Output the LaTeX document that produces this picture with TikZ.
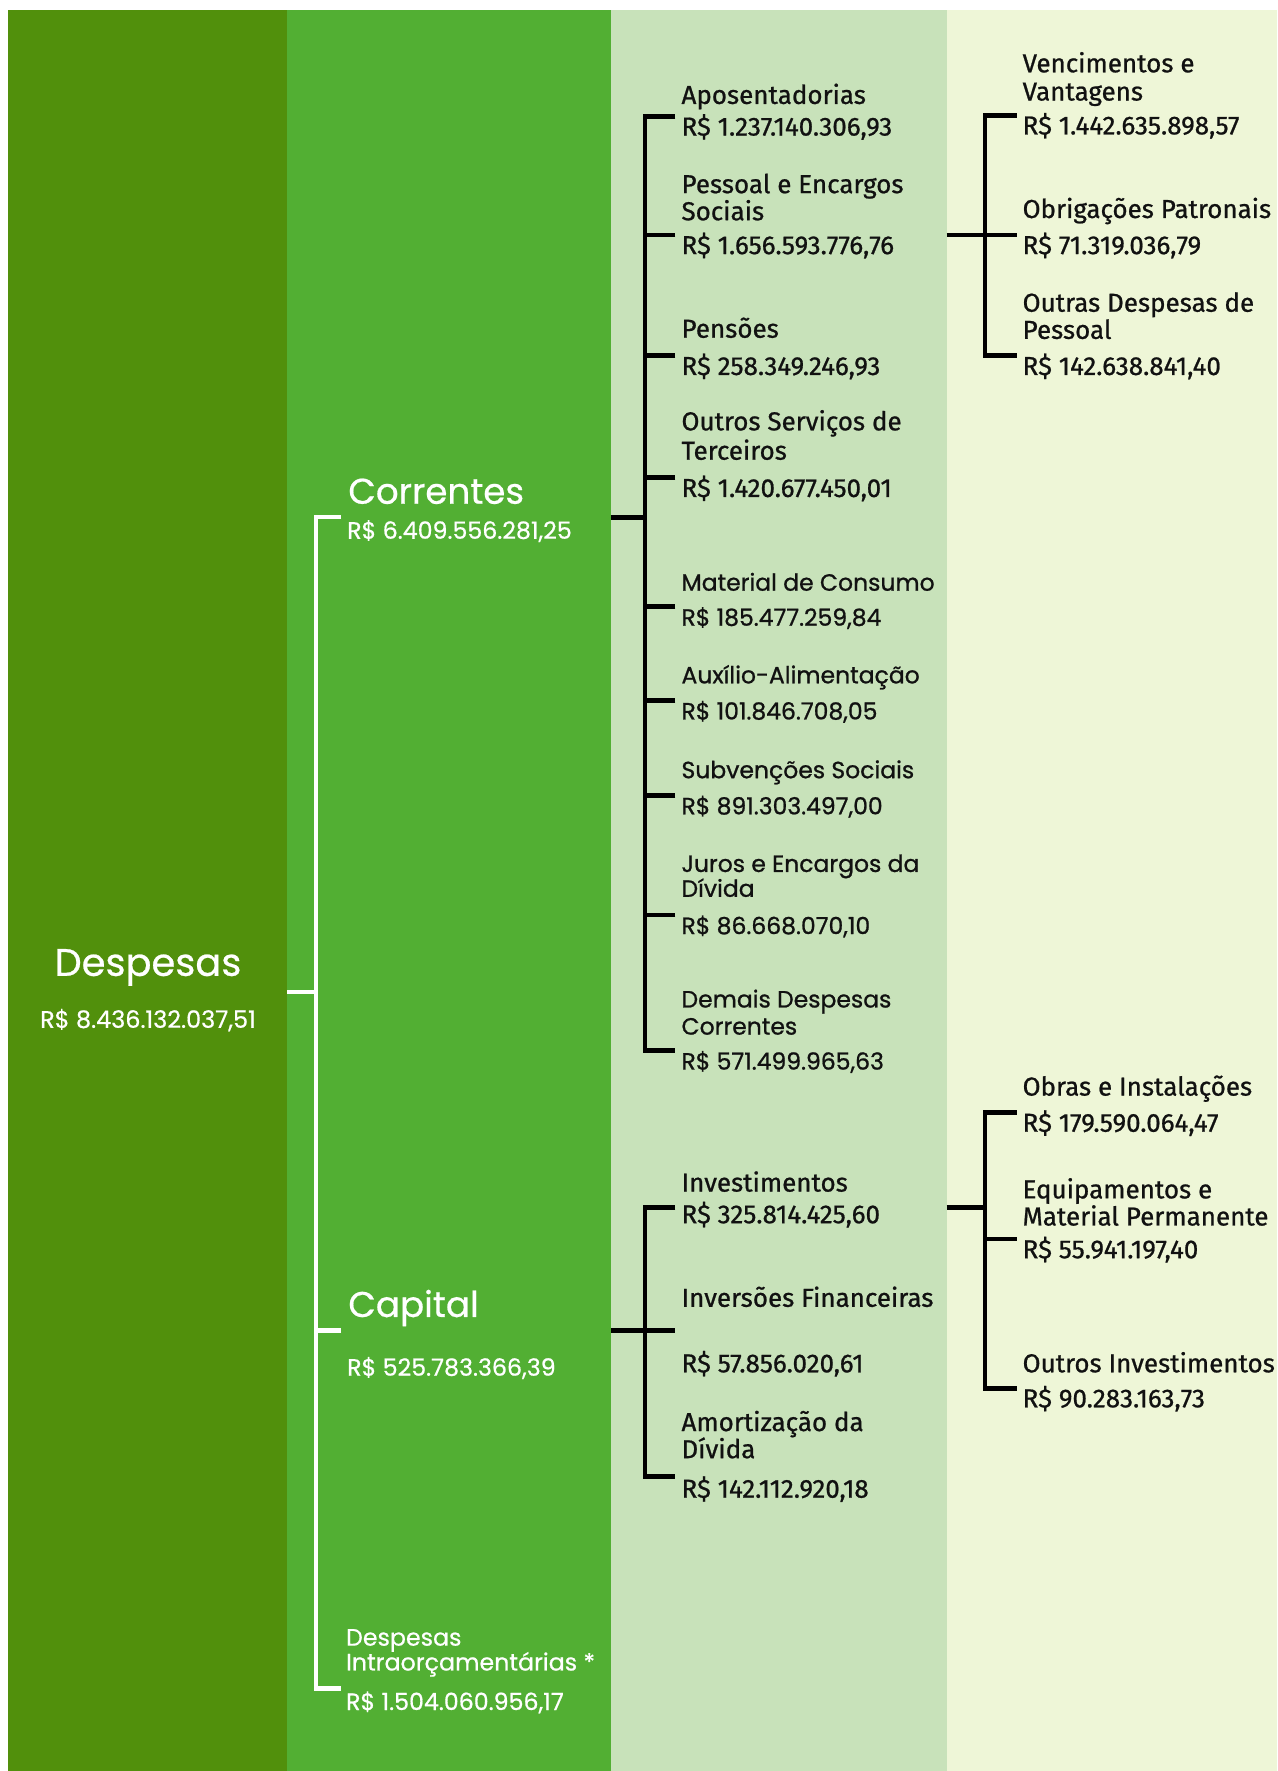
\documentclass[tikz,border=0pt]{standalone}
\usepackage{fontspec}
\setmainfont{Fira Sans}[FakeBold=0.8]
\newfontfamily\pop{Poppins}[FakeBold=0.9]
\newfontfamily\popw{Poppins}[FakeBold=0.6]
\definecolor{cdark}{HTML}{51900C}
\definecolor{cgreen}{HTML}{52AF33}
\definecolor{clight}{HTML}{C8E2BA}
\definecolor{cpale}{HTML}{EEF6D7}
\definecolor{ink}{HTML}{111111}
\begin{document}
\begin{tikzpicture}[x=0.5pt,y=-0.5pt,
  lab/.style={inner sep=0pt, anchor=base west, text=ink, font=\fontsize{11.5}{12}\selectfont},
  plab/.style={lab, font=\pop\fontsize{10.4}{12}\selectfont},
  wlab/.style={inner sep=0pt, anchor=base west, text=white, font=\popw\fontsize{10.5}{12}\selectfont},
  wbig/.style={wlab, font=\popw\fontsize{15.8}{18}\selectfont},
  bline/.style={draw=black, line width=2.1pt},
  wline/.style={draw=white, line width=1.9pt},
]
\useasboundingbox (0,0) rectangle (1131,1568);
\fill[white] (0,0) rectangle (1131,1568);
\fill[cdark] (7,9) rectangle (254,1568);
\fill[cgreen] (254,9) rectangle (541,1568);
\fill[clight] (541,9) rectangle (838,1568);
\fill[cpale] (838,9) rectangle (1131,1568);

% root
\node[inner sep=0pt, anchor=base, text=white, font=\popw\fontsize{17}{20}\selectfont] (root) at (131,864) {Despesas};
\node[inner sep=0pt, anchor=base, text=white, font=\popw\fontsize{10.6}{12}\selectfont] (rootv) at (131,910) {R\$ 8.436.132.037,51};

% level 1
\node[wbig] (cor) at (308,446) {Correntes};
\node[wlab] (corv) at (307,477) {R\$ 6.409.556.281,25};
\node[wbig] (cap) at (308,1166) {Capital};
\node[wlab] (capv) at (307,1218) {R\$ 525.783.366,39};
\node[wlab] (intl1) at (306,1457) {Despesas};
\node[wlab] (intl2) at (306,1479) {Intraorçamentárias *};
\node[wlab] (intv) at (306,1514) {R\$ 1.504.060.956,17};

% level 2 - correntes
\node[lab] (a1l) at (603,92) {Aposentadorias};
\node[lab] (a1) at (603,120) {R\$ 1.237.140.306,93};
\node[lab] (a2l1) at (603,171) {Pessoal e Encargos};
\node[lab] (a2l2) at (603,195) {Sociais};
\node[lab] (a2) at (603,225) {R\$ 1.656.593.776,76};
\node[lab] (a3l) at (603,299) {Pensões};
\node[lab] (a3) at (603,332) {R\$ 258.349.246,93};
\node[lab] (a4l1) at (603,381) {Outros Serviços de};
\node[lab] (a4l2) at (603,407) {Terceiros};
\node[lab] (a4) at (603,440) {R\$ 1.420.677.450,01};
\node[plab] (a5l) at (603,523) {Material de Consumo};
\node[plab] (a5) at (603,554) {R\$ 185.477.259,84};
\node[plab] (a6l) at (603,605) {Auxílio-Alimentação};
\node[plab] (a6) at (603,637) {R\$ 101.846.708,05};
\node[plab] (a7l) at (603,689) {Subvenções Sociais};
\node[plab] (a7) at (603,721) {R\$ 891.303.497,00};
\node[plab] (a8l1) at (603,772) {Juros e Encargos da};
\node[plab] (a8l2) at (603,794) {Dívida};
\node[plab] (a8) at (603,827) {R\$ 86.668.070,10};
\node[plab] (a9l1) at (603,892) {Demais Despesas};
\node[plab] (a9l2) at (603,916) {Correntes};
\node[plab] (a9) at (603,947) {R\$ 571.499.965,63};

% level 2 - capital
\node[lab] (b1l) at (603,1055) {Investimentos};
\node[lab] (b1) at (603,1083) {R\$ 325.814.425,60};
\node[lab] (b2l) at (603,1157) {Inversões Financeiras};
\node[lab] (b2) at (603,1215) {R\$ 57.856.020,61};
\node[lab] (b3l1) at (603,1267) {Amortização da};
\node[lab] (b3l2) at (603,1291) {Dívida};
\node[lab] (b3) at (603,1326) {R\$ 142.112.920,18};

% level 3 - pessoal
\node[lab] (p1l1) at (905,64) {Vencimentos e};
\node[lab] (p1l2) at (905,89) {Vantagens};
\node[lab] (p1) at (905,119) {R\$ 1.442.635.898,57};
\node[lab] (p2l) at (905,193) {Obrigações Patronais};
\node[lab] (p2) at (905,225) {R\$ 71.319.036,79};
\node[lab] (p3l1) at (905,276) {Outras Despesas de};
\node[lab] (p3l2) at (905,300) {Pessoal};
\node[lab] (p3) at (905,332) {R\$ 142.638.841,40};

% level 3 - investimentos
\node[lab] (i1l) at (905,970) {Obras e Instalações};
\node[lab] (i1) at (905,1002) {R\$ 179.590.064,47};
\node[lab] (i2l1) at (905,1061) {Equipamentos e};
\node[lab] (i2l2) at (905,1085) {Material Permanente};
\node[lab] (i2) at (905,1114) {R\$ 55.941.197,40};
\node[lab] (i3l) at (905,1215) {Outros Investimentos};
\node[lab] (i3) at (905,1246) {R\$ 90.283.163,73};

% ---- white bracket
\coordinate (dJ) at (254,878);
\coordinate (wTop) at (280,458);
\coordinate (wBot) at (280,1495);
\coordinate (sCor) at ([shift={(-5,-19)}]corv.base west);
\coordinate (sCap) at (302,1178);
\coordinate (sInt) at ([shift={(-4,-19)}]intv.base west);
\draw[wline] (dJ) -- (dJ -| wTop);
\draw[wline] (sCor) -- (wTop) -- (wBot) -- (sInt);
\draw[wline] (sCap) -- (sCap -| wTop);

% ---- correntes bracket
\coordinate (jCor) at (541,458);
\coordinate (tC) at (571,458);
\foreach \n in {a1,a2,a3,a4,a5,a6,a7,a8,a9}
  \coordinate (s\n) at ([shift={(-5,-17)}]\n.base west);
\draw[bline] (jCor) -- (tC);
\draw[bline] (sa1) -- (sa1 -| tC) -- (sa9 -| tC) -- (sa9);
\foreach \n in {a2,a3,a4,a5,a6,a7,a8}
  \draw[bline] (s\n) -- (s\n -| tC);

% ---- capital bracket
\coordinate (jCap) at (541,1178);
\coordinate (tK) at (571,1178);
\coordinate (sb1) at ([shift={(-5,-14)}]b1.base west);
\coordinate (sb2) at (598,1178);
\coordinate (sb3) at ([shift={(-5,-19)}]b3.base west);
\draw[bline] (jCap) -- (sb2);
\draw[bline] (sb1) -- (sb1 -| tK) -- (sb3 -| tK) -- (sb3);

% ---- pessoal bracket
\coordinate (jP) at (838,208);
\coordinate (tP) at (872,208);
\foreach \n in {p1,p2,p3}
  \coordinate (s\n) at ([shift={(-5,-17)}]\n.base west);
\draw[bline] (jP) -- (tP);
\draw[bline] (sp1) -- (sp1 -| tP) -- (sp3 -| tP) -- (sp3);
\draw[bline] (sp2) -- (sp2 -| tP);

% ---- investimentos bracket
\coordinate (jI) at (838,1069);
\coordinate (tI) at (872,1069);
\foreach \n in {i1,i2,i3}
  \coordinate (s\n) at ([shift={(-5,-17)}]\n.base west);
\draw[bline] (jI) -- (tI);
\draw[bline] (si1) -- (si1 -| tI) -- (si3 -| tI) -- (si3);
\draw[bline] (si2) -- (si2 -| tI);
\end{tikzpicture}
\end{document}
